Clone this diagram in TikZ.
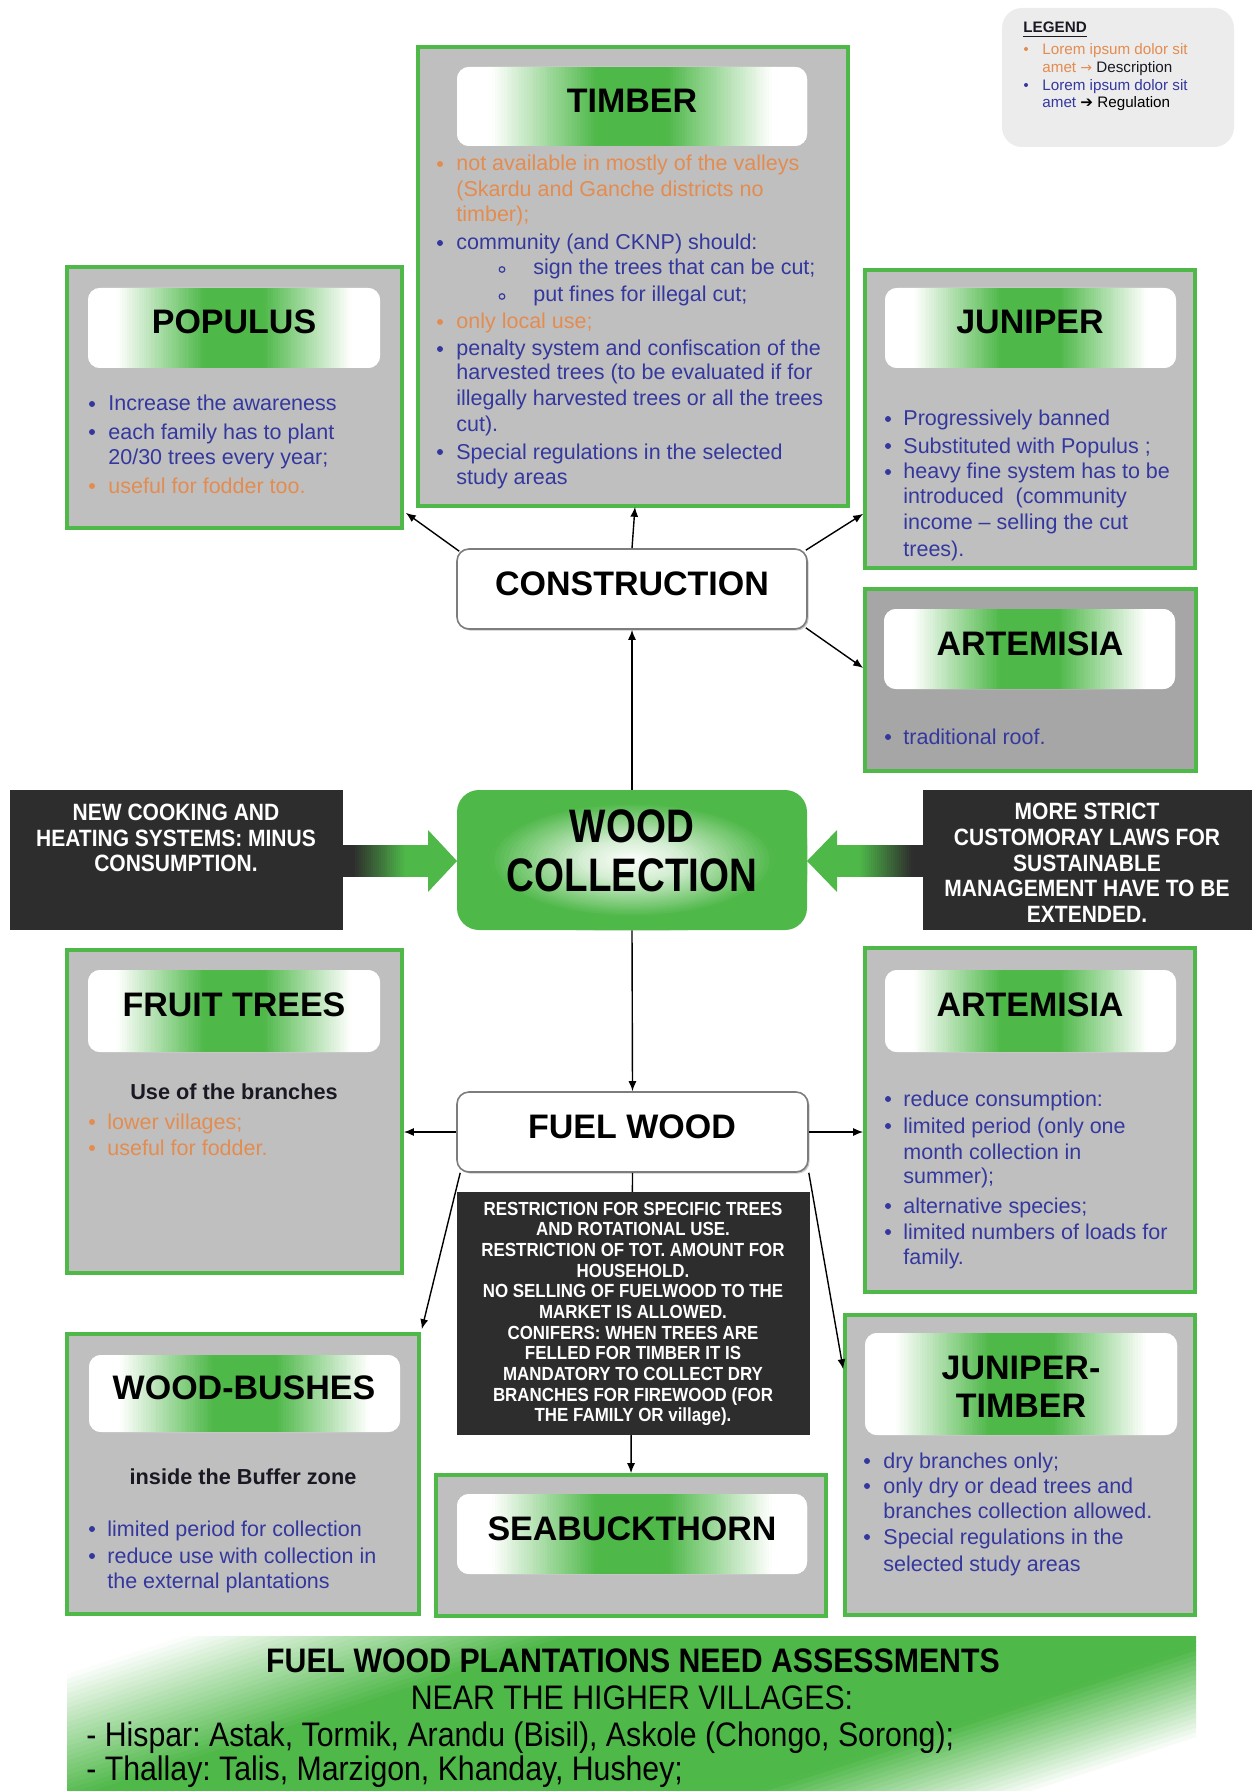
\documentclass[tikz,border=0pt]{standalone}
\usepackage{fontspec}
\setmainfont{Liberation Sans}
\newfontfamily\narrowf[FakeStretch=0.89]{Liberation Sans}
\newfontfamily\wcfont[FakeStretch=0.82]{Liberation Sans}
\newfontfamily\djv{DejaVu Sans}
\usetikzlibrary{arrows.meta,fit,calc,shadows}
\frenchspacing
\definecolor{grn}{RGB}{78,184,72}
\definecolor{boxg}{RGB}{191,191,191}
\definecolor{boxd}{RGB}{166,166,166}
\definecolor{blk}{RGB}{45,45,45}
\definecolor{org}{RGB}{228,140,80}
\definecolor{blu}{RGB}{52,56,158}
\definecolor{lgd}{RGB}{236,236,236}
\definecolor{edge}{RGB}{125,125,125}
\definecolor{ink}{RGB}{25,25,35}
\newcommand\bodyfont{\fontsize{10.75}{12.9}\selectfont}
\newcommand\TLn[5]{\node[bodytxt,text=#4] (#1) at (#2,#3) {#5};}
\newcommand\BUl[3]{\fill[#3] (#1,#2) circle (3);}
\newcommand\SUb[2]{\draw[blu, line width=0.6pt] (#1,#2) circle (2.8);}
% header: name, x1, y1, x2, y2 (white - green - white, drawn as strips)
\newcommand\HDR[5]{%
  \node[fit={(#2,#3)(#4,#5)}, inner sep=0pt, rounded corners=6pt, fill=white] (#1) {};
  \begin{scope}
    \clip[rounded corners=6pt] (#2,#3) rectangle (#4,#5);
    \foreach \hi in {0,...,119} {
      \pgfmathsetmacro\hdd{abs((\hi+0.5)/120-0.5)*2}
      \pgfmathsetmacro\hpc{max(0,min(100,100*(0.8-\hdd)/0.6))}
      \pgfmathsetmacro\hxa{#2+(#4-#2)/120*\hi}
      \pgfmathsetmacro\hxb{#2+(#4-#2)/120*(\hi+1)+0.5}
      \fill[grn!\hpc!white] (\hxa,#3) rectangle (\hxb,#5);
    }
  \end{scope}}
\begin{document}
\begin{tikzpicture}[x=0.5pt,y=-0.5pt,
  gbox/.style={draw=grn, line width=1.8pt, fill=boxg, inner sep=0pt},
  htxt/.style={anchor=base, inner sep=0pt, font=\fontsize{17}{19}\selectfont\bfseries, text=black},
  wbox/.style={draw=edge, fill=white, rounded corners=6pt, line width=0.8pt, inner sep=0pt, drop shadow={shadow xshift=0.8pt, shadow yshift=-0.8pt, fill=black!35, opacity=0.6}},
  kbox/.style={fill=blk, inner sep=0pt},
  ktext/.style={text=white, align=center, inner sep=0pt},
  conn/.style={line width=0.7pt, -{Latex[length=5pt,width=4pt]}},
  bodytxt/.style={anchor=base west, inner sep=0pt, font=\bodyfont},
  subt/.style={anchor=base, inner sep=0pt, font=\fontsize{10.85}{13}\selectfont\bfseries, text=ink},
  lgtxt/.style={anchor=base west, inner sep=0pt, font=\fontsize{7.6}{9}\selectfont}
]
\useasboundingbox (0,0) rectangle (1252,1791);
\fill[white] (0,0) rectangle (1252,1791);

% ---------- legend
\node[fit={(1002,8)(1234,147)}, fill=lgd, rounded corners=10pt, inner sep=0pt] (legend) {};
\node[lgtxt, font=\fontsize{7.6}{9}\selectfont\bfseries, text=ink] (lgt) at (1023,33) {\underline{LEGEND}};
\fill[org] (1026,49) circle (2);
\node[lgtxt, text=org] (lg1) at (1042,55) {Lorem ipsum dolor sit};
\node[lgtxt, text=org] (lg2) at (1042,73) {amet {\djv\fontsize{7}{9}\selectfont →} \textcolor{ink}{Description}};
\fill[blu] (1026,85) circle (2);
\node[lgtxt, text=blu] (lg3) at (1042,91) {Lorem ipsum dolor sit};
\node[lgtxt, text=blu] (lg4) at (1042,108) {amet \textcolor{black}{{\djv ➔} Regulation}};

% ---------- green boxes
\node[gbox, fit={(418,47)(848,506)}] (timber) {};
\HDR{timberh}{457}{67}{807}{146}
\node[htxt] (timbert) at (632,112.5) {TIMBER};
\node[gbox, fit={(67,267)(402,528)}] (populus) {};
\HDR{populush}{88}{288}{380}{368}
\node[htxt] (populust) at (234,334) {POPULUS};
\node[gbox, fit={(865,270)(1195,568)}] (juniper) {};
\HDR{juniperh}{885}{288}{1176}{368}
\node[htxt] (junipert) at (1030,334) {JUNIPER};
\node[gbox, fill=boxd, fit={(865,589)(1196,771)}] (art1) {};
\HDR{art1h}{884}{609}{1175}{689}
\node[htxt] (art1t) at (1030,655) {ARTEMISIA};
\node[gbox, fit={(67,950)(402,1273)}] (fruit) {};
\HDR{fruith}{88}{970}{380}{1052}
\node[htxt] (fruitt) at (234,1016) {FRUIT TREES};
\node[gbox, fit={(865,948)(1195,1292)}] (art2) {};
\HDR{art2h}{885}{970}{1176}{1052}
\node[htxt] (art2t) at (1030,1016) {ARTEMISIA};
\node[gbox, fit={(67,1334)(419,1614)}] (bushes) {};
\HDR{bushesh}{89}{1355}{400}{1432}
\node[htxt] (bushest) at (244,1399) {WOOD-BUSHES};
\node[gbox, fit={(436,1475)(826,1616)}] (seabuck) {};
\HDR{seabuckh}{457}{1494}{807}{1574}
\node[htxt] (seabuckt) at (632,1540) {SEABUCKTHORN};
\node[gbox, fit={(845,1315)(1195,1615)}] (jt) {};
\HDR{jth}{865}{1333}{1177}{1435}
\node[htxt] (jtt1) at (1021,1379) {JUNIPER-};
\node[htxt] (jtt2) at (1021,1417) {TIMBER};

% ---------- central boxes
\node[wbox, fit={(457,549)(807,629)}] (construction) {};
\node[inner sep=0pt, font=\fontsize{17}{19}\selectfont\bfseries] (constructiont) at (632,584) {CONSTRUCTION};
\node[wbox, fit={(457,1092)(808,1172)}] (fuelwood) {};
\node[inner sep=0pt, font=\fontsize{17}{19}\selectfont\bfseries] (fuelwoodt) at (632,1127) {FUEL WOOD};
\node[fit={(457,790)(807,930)}, inner sep=0pt, rounded corners=11pt, fill=grn] (woodc) {};
\begin{scope}
  \clip[rounded corners=11pt] (457,790) rectangle (807,930);
  \foreach \ri in {0,...,39} {
    \pgfmathsetmacro\rr{1.02-\ri/39}
    \pgfmathsetmacro\rpc{\rr>=0.8 ? 100 : (\rr>=0.3 ? 25+75*(\rr-0.3)/0.5 : max(0,25*\rr/0.3))}
    \pgfmathsetmacro\rxa{max(0.5,180*\rr)}
    \pgfmathsetmacro\rya{max(0.5,72*\rr)}
    \fill[grn!\rpc!white] (632,860) ellipse ({\rxa} and {\rya});
  }
\end{scope}
\node[inner sep=0pt, align=center, font=\wcfont\bfseries\fontsize{23.5}{24.5}\selectfont] (woodct) at (632,851) {WOOD\\COLLECTION};

% ---------- dark side boxes and green arrows
\node[kbox, fit={(10,790)(343,930)}] (cook) {};
\node[ktext, font=\narrowf\bfseries\fontsize{11.8}{12.85}\selectfont] (cookt) at (176,838) {NEW COOKING AND\\HEATING SYSTEMS: MINUS\\CONSUMPTION.};
\node[kbox, fit={(923,790)(1252,930)}] (laws) {};
\node[ktext, font=\narrowf\bfseries\fontsize{11.8}{12.85}\selectfont] (lawst) at (1087,863) {MORE STRICT\\CUSTOMORAY LAWS FOR\\SUSTAINABLE\\MANAGEMENT HAVE TO BE\\EXTENDED.};
\foreach \si in {0,...,43} {
  \pgfmathsetmacro\spc{max(0,min(100,100*((\si+0.5)/44-0.12)/0.6))}
  \pgfmathsetmacro\sxa{343+87/44*\si}
  \pgfmathsetmacro\sxb{343+87/44*(\si+1)+0.5}
  \pgfmathsetmacro\sxc{923-88/44*\si}
  \pgfmathsetmacro\sxd{923-88/44*(\si+1)-0.5}
  \fill[grn!\spc!blk] (\sxa,845) rectangle (\sxb,877);
  \fill[grn!\spc!blk] (\sxc,845) rectangle (\sxd,877);
}
\fill[grn] (428,830) -- (457,861) -- (428,892) -- cycle;
\fill[grn] (837,830) -- (807,861) -- (837,892) -- cycle;

% ---------- connectors
\draw[conn] ($(construction.north west)+(3,3)$) -- ($(populus.south east)+(2,-17)$);
\draw[conn] (construction.north) -- ($(timber.south)+(2,-1)$);
\draw[conn] ($(construction.north east)+(-2,2)$) -- ($(juniper.south west)+(0,-56)$);
\draw[conn] ($(construction.south east)+(-2,-2)$) -- ($(art1.west)+(0,-12)$);
\draw[conn] (woodc.north) -- (construction.south);
\draw[conn] (woodc.south) -- (fuelwood.north);
\draw[conn] (fuelwood.west) -- (fuelwood.west -| fruit.east);
\draw[conn] (fuelwood.east) -- (fuelwood.east -| art2.west);
\draw[conn] ($(fuelwood.south west)+(4,0)$) -- ($(bushes.north east)+(1,-3)$);
\draw[conn] (fuelwood.south east) -- ($(jt.north west)+(0,56)$);
\draw[conn] (fuelwood.south) -- (seabuck.north);

% ---------- restriction box
\node[kbox, fit={(457,1192)(810,1435)}] (restr) {};
\node[ktext, font=\narrowf\bfseries\fontsize{9.5}{10.33}\selectfont] (restrt) at (633,1314) {RESTRICTION FOR SPECIFIC TREES\\AND ROTATIONAL USE.\\RESTRICTION OF TOT. AMOUNT FOR\\HOUSEHOLD.\\NO SELLING OF FUELWOOD TO THE\\MARKET IS ALLOWED.\\CONIFERS: WHEN TREES ARE\\FELLED FOR TIMBER IT IS\\MANDATORY TO COLLECT DRY\\BRANCHES FOR FIREWOOD (FOR\\THE FAMILY OR village).};

% ---------- TIMBER text
\BUl{440}{164}{org}
\TLn{tb1}{456}{171}{org}{not available in mostly of the valleys}
\TLn{tb2}{456}{197}{org}{(Skardu and Ganche districts no}
\TLn{tb3}{456}{222}{org}{timber);}
\BUl{440}{243}{blu}
\TLn{tb4}{456}{250}{blu}{community (and CKNP) should:}
\SUb{502}{269.5}
\TLn{tb5}{533}{275}{blu}{sign the trees that can be cut;}
\SUb{502}{296.5}
\TLn{tb6}{533}{302}{blu}{put fines for illegal cut;}
\BUl{440}{322}{org}
\TLn{tb7}{456}{329}{org}{only local use;}
\BUl{440}{349}{blu}
\TLn{tb8}{456}{356}{blu}{penalty system and confiscation of the}
\TLn{tb9}{456}{380}{blu}{harvested trees (to be evaluated if for}
\TLn{tb10}{456}{406}{blu}{illegally harvested trees or all the trees}
\TLn{tb11}{456}{431}{blu}{cut).}
\BUl{440}{452}{blu}
\TLn{tb12}{456}{459}{blu}{Special regulations in the selected}
\TLn{tb13}{456}{484}{blu}{study areas}

% ---------- POPULUS text
\BUl{92}{404}{blu}
\TLn{pp1}{108}{411}{blu}{Increase the awareness}
\BUl{92}{432}{blu}
\TLn{pp2}{108}{439}{blu}{each family has to plant}
\TLn{pp3}{108}{465}{blu}{20/30 trees every year;}
\BUl{92}{486}{org}
\TLn{pp4}{108}{493}{org}{useful for fodder too.}

% ---------- JUNIPER text
\BUl{888}{419}{blu}
\TLn{jp1}{903}{426}{blu}{Progressively banned}
\BUl{888}{446}{blu}
\TLn{jp2}{903}{453}{blu}{Substituted with Populus ;}
\BUl{888}{472}{blu}
\TLn{jp3}{903}{479}{blu}{heavy fine system has to be}
\TLn{jp4}{903}{503}{blu}{introduced~ (community}
\TLn{jp5}{903}{529}{blu}{income – selling the cut}
\TLn{jp6}{903}{556}{blu}{trees).}

% ---------- ARTEMISIA (top)
\BUl{888}{737}{blu}
\TLn{a1}{903}{744}{blu}{traditional roof.}

% ---------- FRUIT TREES
\node[subt] (frs) at (234,1099) {Use of the branches};
\BUl{92}{1122}{org}
\TLn{fr1}{107}{1129}{org}{lower villages;}
\BUl{92}{1148}{org}
\TLn{fr2}{107}{1155}{org}{useful for fodder.}

% ---------- ARTEMISIA (bottom)
\BUl{888}{1099}{blu}
\TLn{ar1}{903}{1106}{blu}{reduce consumption:}
\BUl{888}{1126}{blu}
\TLn{ar2}{903}{1133}{blu}{limited period (only one}
\TLn{ar3}{903}{1159}{blu}{month collection in}
\TLn{ar4}{903}{1183}{blu}{summer);}
\BUl{888}{1206}{blu}
\TLn{ar5}{903}{1213}{blu}{alternative species;}
\BUl{888}{1232}{blu}
\TLn{ar6}{903}{1239}{blu}{limited numbers of loads for}
\TLn{ar7}{903}{1264}{blu}{family.}

% ---------- WOOD-BUSHES
\node[subt] (wbs) at (243,1484) {inside the Buffer zone};
\BUl{92}{1529}{blu}
\TLn{wb1}{107}{1536}{blu}{limited period for collection}
\BUl{92}{1556}{blu}
\TLn{wb2}{107}{1563}{blu}{reduce use with collection in}
\TLn{wb3}{107}{1588}{blu}{the external plantations}

% ---------- JUNIPER-TIMBER
\BUl{867}{1461}{blu}
\TLn{jt1}{883}{1468}{blu}{dry branches only;}
\BUl{867}{1486}{blu}
\TLn{jt2}{883}{1493}{blu}{only dry or dead trees and}
\TLn{jt3}{883}{1518}{blu}{branches collection allowed.}
\BUl{867}{1537}{blu}
\TLn{jt4}{883}{1544}{blu}{Special regulations in the}
\TLn{jt5}{883}{1571}{blu}{selected study areas}

% ---------- bottom banner (white - green - white, tilted bands)
\node[fit={(67,1636)(1196,1791)}, inner sep=0pt, fill=white] (banner) {};
\begin{scope}
  \clip (67,1636) rectangle (1196,1791);
  \foreach \bi in {0,...,109} {
    \pgfmathsetmacro\bc{\bi*0.013}
    \pgfmathsetmacro\bs{\bc+0.0065}
    \pgfmathsetmacro\bpc{\bs<0.1 ? 0 : (\bs<0.45 ? 100*(\bs-0.1)/0.35 : (\bs<1.03 ? 100 : (\bs<1.28 ? 100*(1.28-\bs)/0.25 : 0)))}
    \pgfmathsetmacro\bxa{67+1129*(\bc+0.42)}
    \pgfmathsetmacro\bxb{67+1129*(\bc+0.0145+0.42)}
    \pgfmathsetmacro\bxc{67+1129*(\bc+0.0145-0.84)}
    \pgfmathsetmacro\bxd{67+1129*(\bc-0.84)}
    \fill[grn!\bpc!white] (\bxa,1481) -- (\bxb,1481) -- (\bxc,1946) -- (\bxd,1946) -- cycle;
  }
\end{scope}
\node[anchor=base, inner sep=0pt, font=\narrowf\bfseries\fontsize{17}{20}\selectfont] (bn1) at (633,1672) {FUEL WOOD PLANTATIONS NEED ASSESSMENTS};
\node[anchor=base, inner sep=0pt, font=\narrowf\fontsize{17}{20}\selectfont] (bn2) at (632,1709) {NEAR THE HIGHER VILLAGES:};
\node[anchor=base west, inner sep=0pt, font=\narrowf\fontsize{17}{20}\selectfont] (bn3) at (86,1746) {- Hispar: Astak, Tormik, Arandu (Bisil), Askole (Chongo, Sorong);};
\node[anchor=base west, inner sep=0pt, font=\narrowf\fontsize{17}{20}\selectfont] (bn4) at (86,1780) {- Thallay: Talis, Marzigon, Khanday, Hushey;};
\end{tikzpicture}
\end{document}
